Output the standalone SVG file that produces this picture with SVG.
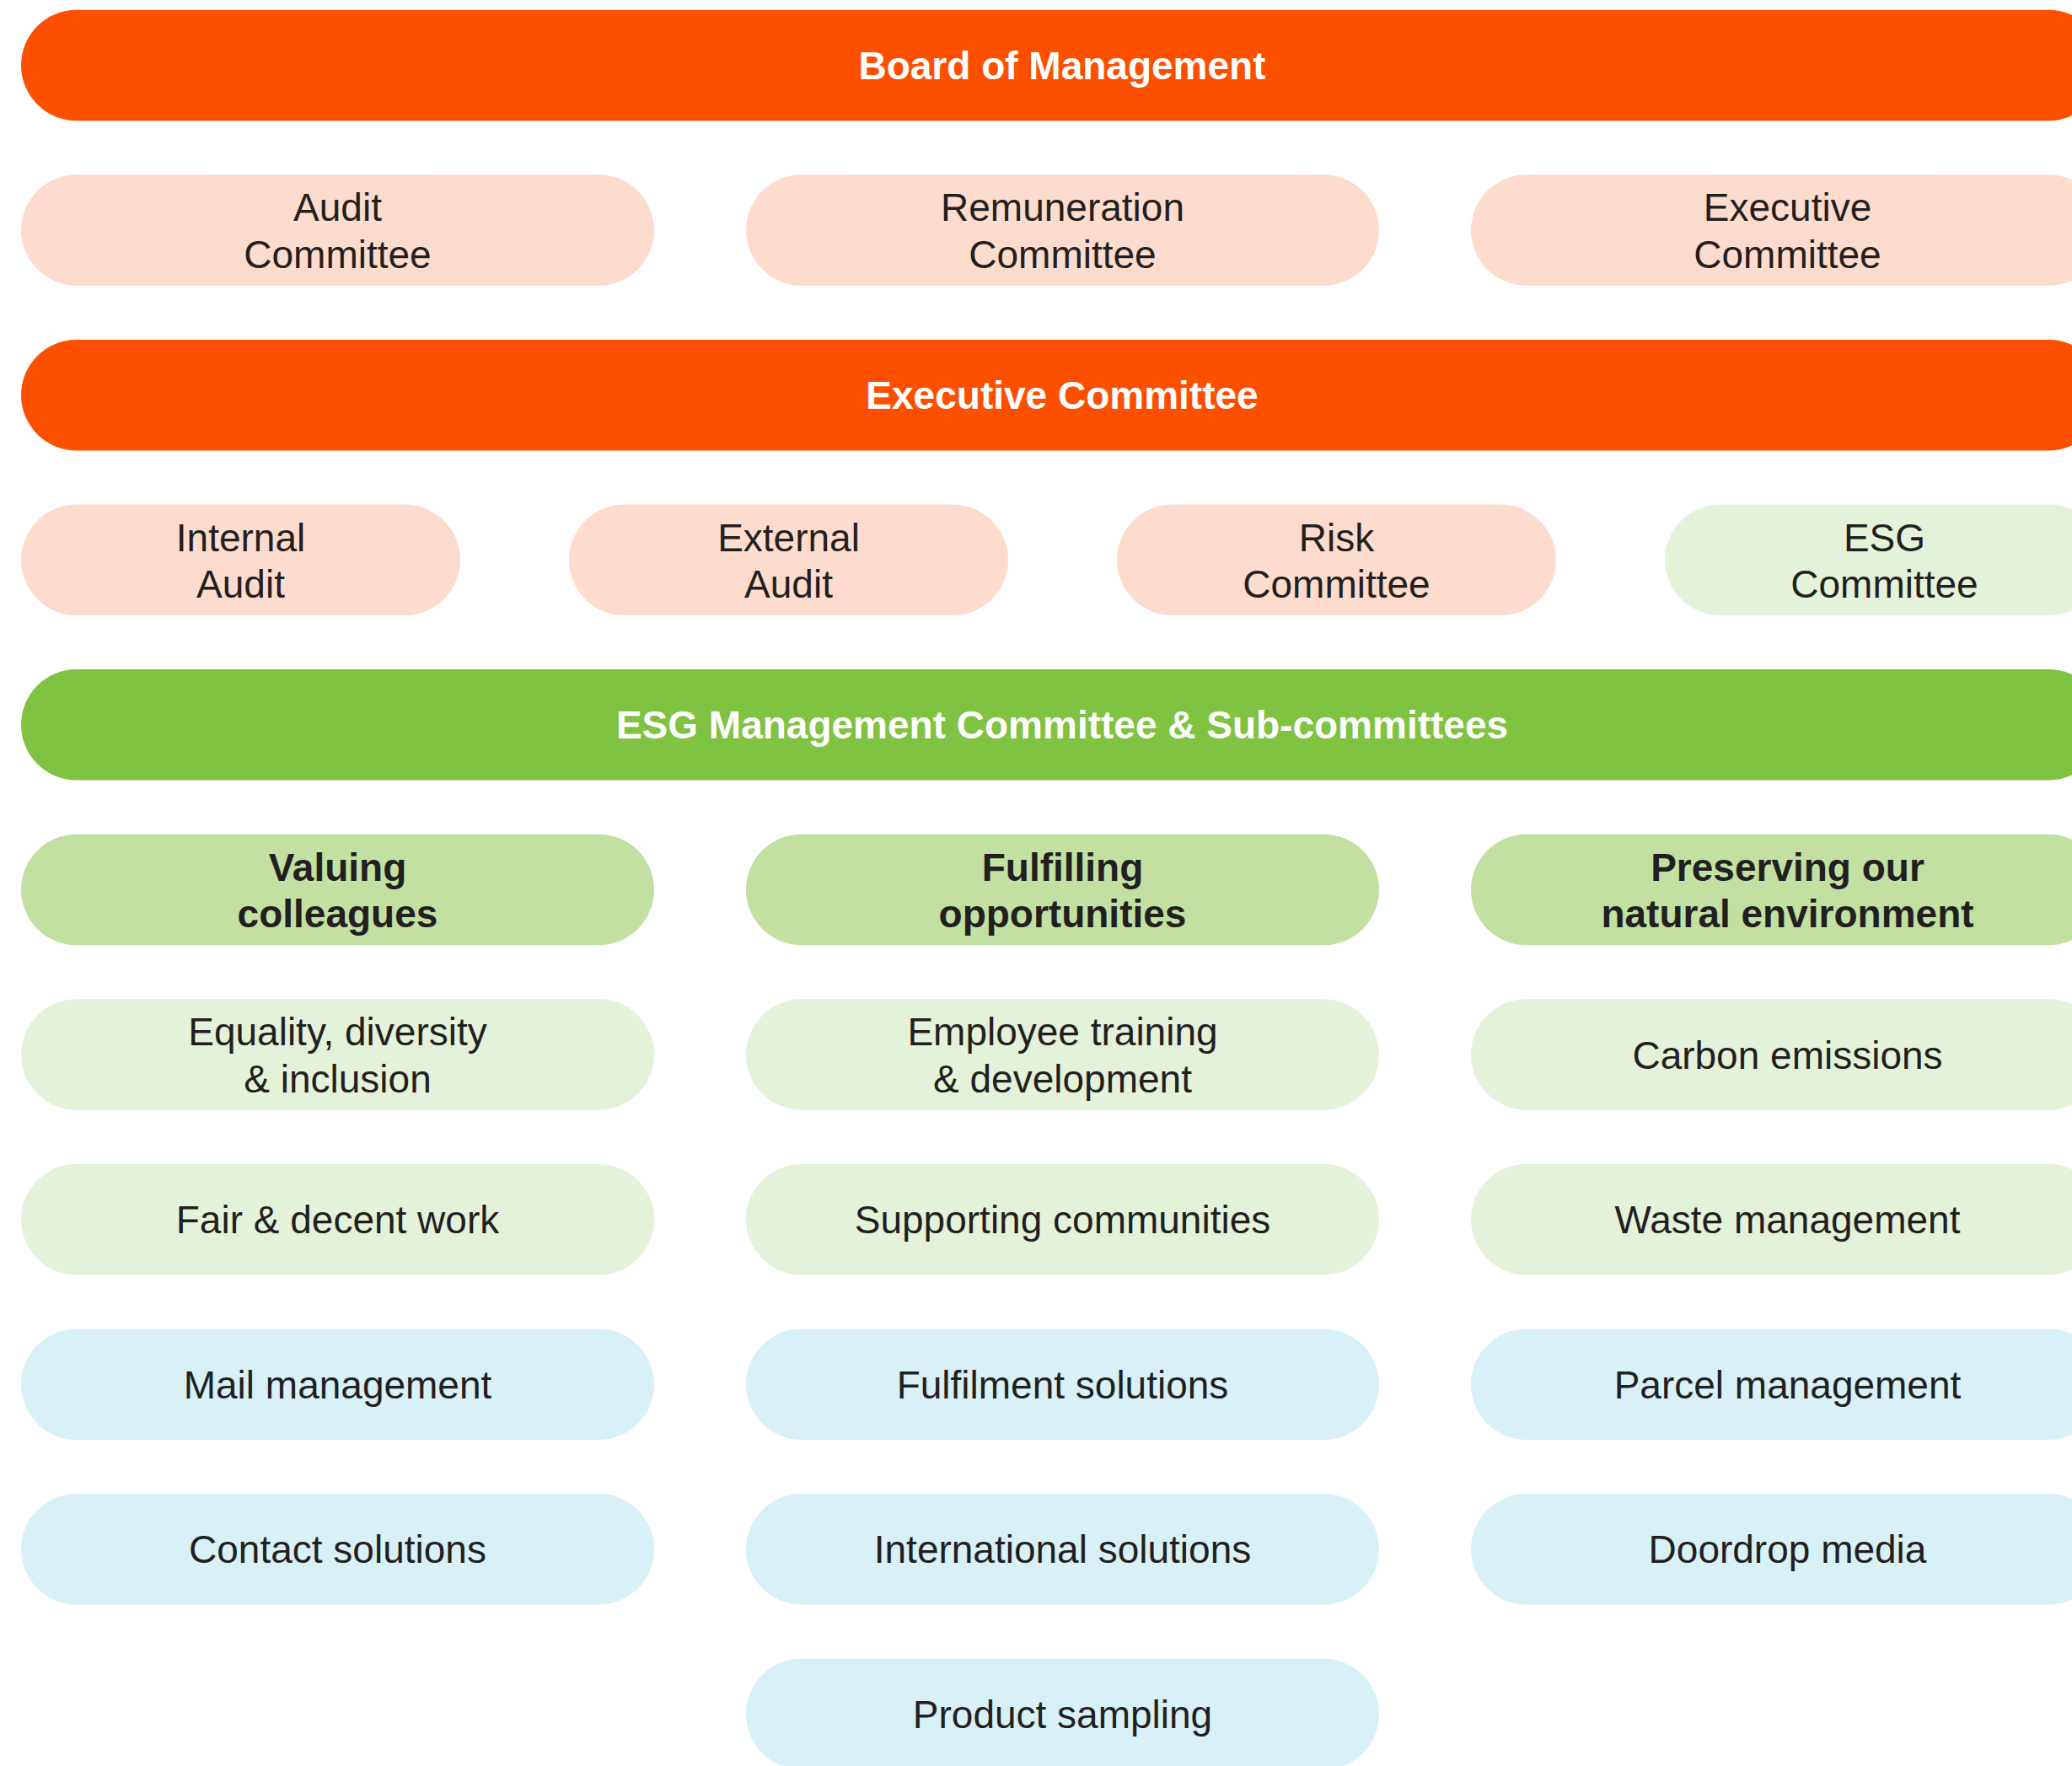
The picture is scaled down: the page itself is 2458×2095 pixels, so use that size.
<svg xmlns="http://www.w3.org/2000/svg" width="2458" height="2095" viewBox="0 0 2458 2095">
<style>
  .t { font-family: "Liberation Sans", Arial, sans-serif; font-size: 46px; fill: #231F20; text-anchor: middle; }
  .b { font-weight: bold; }
  .w { fill: #FFFFFF; }
  .orange { fill: #FC5000; }
  .peach { fill: #FDDCCD; }
  .green { fill: #80C242; }
  .mid { fill: #C2E0A2; }
  .light { fill: #E5F2DA; }
  .blue { fill: #D7F1F6; }
</style>
<rect x="0" y="0" width="2458" height="2095" fill="#FFFFFF"/>
<g id="connectors"></g>

<!-- Row 0 -->
<g id="board">
  <rect class="orange" x="25" y="11.7" width="2471" height="131.5" rx="65.75"/>
  <text class="t b w" x="1260" y="94">Board of Management</text>
</g>

<!-- Row 1 -->
<g id="audit-committee">
  <rect class="peach" x="25" y="207.3" width="751" height="131.5" rx="65.75"/>
  <text class="t" x="400.5" y="262">Audit</text>
  <text class="t" x="400.5" y="317.5">Committee</text>
</g>
<g id="remuneration-committee">
  <rect class="peach" x="885" y="207.3" width="751" height="131.5" rx="65.75"/>
  <text class="t" x="1260.5" y="262">Remuneration</text>
  <text class="t" x="1260.5" y="317.5">Committee</text>
</g>
<g id="executive-committee-1">
  <rect class="peach" x="1745" y="207.3" width="751" height="131.5" rx="65.75"/>
  <text class="t" x="2120.5" y="262">Executive</text>
  <text class="t" x="2120.5" y="317.5">Committee</text>
</g>

<!-- Row 2 -->
<g id="executive-committee">
  <rect class="orange" x="25" y="402.9" width="2471" height="131.5" rx="65.75"/>
  <text class="t b w" x="1260" y="485.2">Executive Committee</text>
</g>

<!-- Row 3 -->
<g id="internal-audit">
  <rect class="peach" x="25" y="598.5" width="521" height="131.5" rx="65.75"/>
  <text class="t" x="285.5" y="653.5">Internal</text>
  <text class="t" x="285.5" y="709">Audit</text>
</g>
<g id="external-audit">
  <rect class="peach" x="675" y="598.5" width="521" height="131.5" rx="65.75"/>
  <text class="t" x="935.5" y="653.5">External</text>
  <text class="t" x="935.5" y="709">Audit</text>
</g>
<g id="risk-committee">
  <rect class="peach" x="1325" y="598.5" width="521" height="131.5" rx="65.75"/>
  <text class="t" x="1585.5" y="653.5">Risk</text>
  <text class="t" x="1585.5" y="709">Committee</text>
</g>
<g id="esg-committee">
  <rect class="light" x="1975" y="598.5" width="521" height="131.5" rx="65.75"/>
  <text class="t" x="2235.5" y="653.5">ESG</text>
  <text class="t" x="2235.5" y="709">Committee</text>
</g>

<!-- Row 4 -->
<g id="esg-management">
  <rect class="green" x="25" y="794.1" width="2471" height="131.5" rx="65.75"/>
  <text class="t b w" x="1260" y="876.4">ESG Management Committee &amp; Sub-committees</text>
</g>

<!-- Row 5 -->
<g id="valuing-colleagues">
  <rect class="mid" x="25" y="989.7" width="751" height="131.5" rx="65.75"/>
  <text class="t b" x="400.5" y="1044.7">Valuing</text>
  <text class="t b" x="400.5" y="1100.2">colleagues</text>
</g>
<g id="fulfilling-opportunities">
  <rect class="mid" x="885" y="989.7" width="751" height="131.5" rx="65.75"/>
  <text class="t b" x="1260.5" y="1044.7">Fulfilling</text>
  <text class="t b" x="1260.5" y="1100.2">opportunities</text>
</g>
<g id="preserving-environment">
  <rect class="mid" x="1745" y="989.7" width="751" height="131.5" rx="65.75"/>
  <text class="t b" x="2120.5" y="1044.7">Preserving our</text>
  <text class="t b" x="2120.5" y="1100.2">natural environment</text>
</g>

<!-- Row 6 -->
<g id="equality">
  <rect class="light" x="25" y="1185.3" width="751" height="131.5" rx="65.75"/>
  <text class="t" x="400.5" y="1240.3">Equality, diversity</text>
  <text class="t" x="400.5" y="1295.8">&amp; inclusion</text>
</g>
<g id="employee-training">
  <rect class="light" x="885" y="1185.3" width="751" height="131.5" rx="65.75"/>
  <text class="t" x="1260.5" y="1240.3">Employee training</text>
  <text class="t" x="1260.5" y="1295.8">&amp; development</text>
</g>
<g id="carbon-emissions">
  <rect class="light" x="1745" y="1185.3" width="751" height="131.5" rx="65.75"/>
  <text class="t" x="2120.5" y="1267.6">Carbon emissions</text>
</g>

<!-- Row 7 -->
<g id="fair-work">
  <rect class="light" x="25" y="1380.9" width="751" height="131.5" rx="65.75"/>
  <text class="t" x="400.5" y="1463.2">Fair &amp; decent work</text>
</g>
<g id="supporting-communities">
  <rect class="light" x="885" y="1380.9" width="751" height="131.5" rx="65.75"/>
  <text class="t" x="1260.5" y="1463.2">Supporting communities</text>
</g>
<g id="waste-management">
  <rect class="light" x="1745" y="1380.9" width="751" height="131.5" rx="65.75"/>
  <text class="t" x="2120.5" y="1463.2">Waste management</text>
</g>

<!-- Row 8 -->
<g id="mail-management">
  <rect class="blue" x="25" y="1576.5" width="751" height="131.5" rx="65.75"/>
  <text class="t" x="400.5" y="1658.8">Mail management</text>
</g>
<g id="fulfilment-solutions">
  <rect class="blue" x="885" y="1576.5" width="751" height="131.5" rx="65.75"/>
  <text class="t" x="1260.5" y="1658.8">Fulfilment solutions</text>
</g>
<g id="parcel-management">
  <rect class="blue" x="1745" y="1576.5" width="751" height="131.5" rx="65.75"/>
  <text class="t" x="2120.5" y="1658.8">Parcel management</text>
</g>

<!-- Row 9 -->
<g id="contact-solutions">
  <rect class="blue" x="25" y="1772.1" width="751" height="131.5" rx="65.75"/>
  <text class="t" x="400.5" y="1854.4">Contact solutions</text>
</g>
<g id="international-solutions">
  <rect class="blue" x="885" y="1772.1" width="751" height="131.5" rx="65.75"/>
  <text class="t" x="1260.5" y="1854.4">International solutions</text>
</g>
<g id="doordrop-media">
  <rect class="blue" x="1745" y="1772.1" width="751" height="131.5" rx="65.75"/>
  <text class="t" x="2120.5" y="1854.4">Doordrop media</text>
</g>

<!-- Row 10 -->
<g id="product-sampling">
  <rect class="blue" x="885" y="1967.7" width="751" height="131.5" rx="65.75"/>
  <text class="t" x="1260.5" y="2050">Product sampling</text>
</g>
</svg>
